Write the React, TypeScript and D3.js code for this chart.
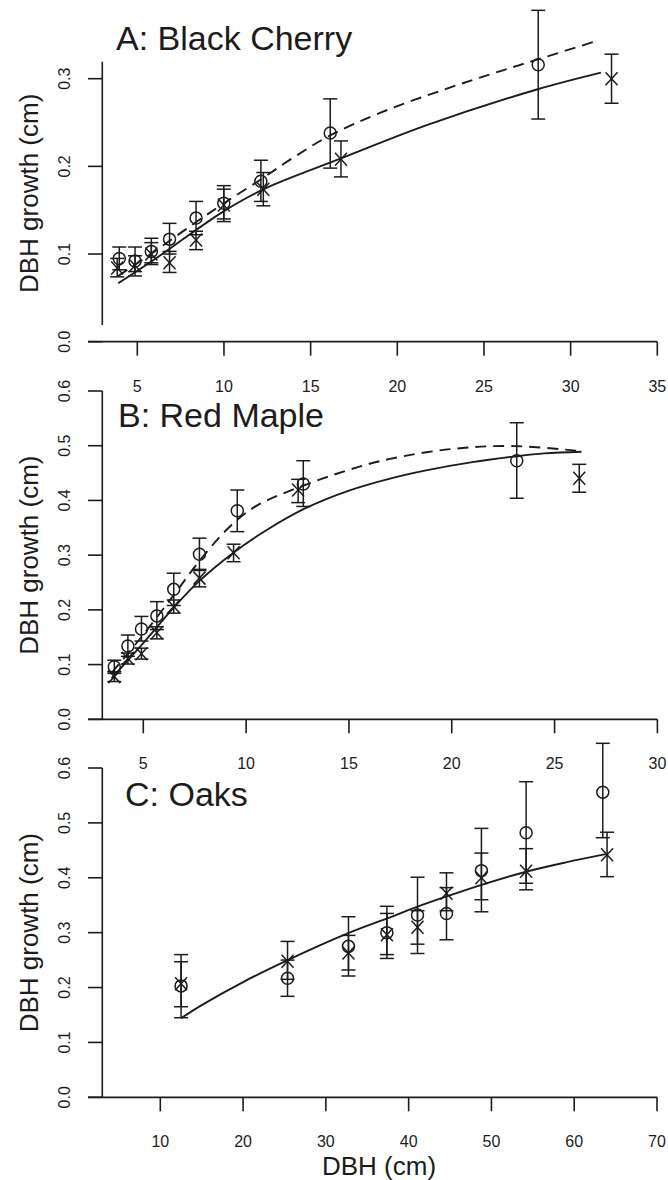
import React from 'react';
import * as d3 from 'd3';

// ---------- Panel A: Black Cherry ----------
const aCircDBH = [3.96, 4.87, 5.81, 6.86, 8.39, 9.99, 12.13, 16.13, 28.13];
const aCircG = [0.095, 0.092, 0.103, 0.117, 0.141, 0.158, 0.183, 0.238, 0.316];
const aCircLo = [0.082, 0.080, 0.090, 0.100, 0.122, 0.140, 0.160, 0.198, 0.254];
const aCircHi = [0.108, 0.108, 0.118, 0.135, 0.160, 0.178, 0.207, 0.277, 0.378];
const aCrossDBH = [3.84, 4.87, 5.81, 6.86, 8.39, 9.99, 12.27, 16.75, 32.36];
const aCrossG = [0.084, 0.087, 0.100, 0.090, 0.116, 0.156, 0.174, 0.208, 0.300];
const aCrossLo = [0.074, 0.075, 0.088, 0.079, 0.105, 0.137, 0.155, 0.188, 0.272];
const aCrossHi = [0.095, 0.098, 0.113, 0.103, 0.126, 0.174, 0.193, 0.229, 0.328];
const aSolidDBH = [3.9, 6, 8, 10, 12.3, 16.75, 21.7, 28.1, 31.75];
const aSolidG = [0.0666, 0.094, 0.122, 0.149, 0.174, 0.209, 0.247, 0.288, 0.307];
const aDashDBH = [3.9, 6, 8, 10, 12.2, 14, 16.1, 19, 22.9, 26, 28.1, 31.5];
const aDashG = [0.075, 0.103, 0.131, 0.158, 0.186, 0.21, 0.235, 0.261, 0.289, 0.309, 0.322, 0.343];
const aXTicks = [5, 10, 15, 20, 25, 30, 35];
const aYTicks = [0.0, 0.1, 0.2, 0.3];

// ---------- Panel B: Red Maple ----------
const bCircDBH = [3.59, 4.25, 4.91, 5.66, 6.48, 7.73, 9.57, 12.78, 23.16];
const bCircG = [0.096, 0.134, 0.165, 0.189, 0.2375, 0.3015, 0.381, 0.430, 0.4726];
const bCircLo = [0.084, 0.115, 0.143, 0.164, 0.208, 0.272, 0.343, 0.389, 0.404];
const bCircHi = [0.108, 0.154, 0.188, 0.215, 0.267, 0.331, 0.419, 0.4726, 0.542];
const bCrossDBH = [3.59, 4.25, 4.91, 5.66, 6.48, 7.73, 9.39, 12.53, 26.2];
const bCrossG = [0.078, 0.111, 0.120, 0.158, 0.206, 0.258, 0.3045, 0.419, 0.4404];
const bCrossLo = [0.069, 0.101, 0.110, 0.147, 0.194, 0.242, 0.288, 0.396, 0.415];
const bCrossHi = [0.087, 0.121, 0.130, 0.169, 0.218, 0.274, 0.320, 0.4386, 0.466];
const bSolidDBH = [3.46, 4.9, 6.5, 7.7, 9.4, 11, 12.84, 15, 17, 18.75, 21, 23, 24.5, 26.31];
const bSolidG = [0.075, 0.135, 0.205, 0.252, 0.305, 0.346, 0.385, 0.418, 0.44, 0.455, 0.47, 0.48, 0.486, 0.489];
const bDashDBH = [3.46, 4.9, 6.5, 7.7, 9.2, 10.5, 12.3, 15, 17, 20, 22.9, 26.3];
const bDashG = [0.085, 0.15, 0.228, 0.288, 0.352, 0.39, 0.42, 0.456, 0.476, 0.494, 0.4995, 0.49];
const bXTicks = [5, 10, 15, 20, 25, 30];
const bYTicks = [0.0, 0.1, 0.2, 0.3, 0.4, 0.5, 0.6];

// ---------- Panel C: Oaks ----------
const cCircDBH = [12.51, 25.37, 32.73, 37.37, 41.07, 44.57, 48.79, 54.19, 63.45];
const cCircG = [0.203, 0.217, 0.275, 0.300, 0.332, 0.335, 0.413, 0.482, 0.556];
const cCircLo = [0.145, 0.184, 0.221, 0.253, 0.262, 0.287, 0.338, 0.390, 0.473];
const cCircHi = [0.260, 0.250, 0.329, 0.348, 0.401, 0.382, 0.490, 0.575, 0.645];
const cCrossDBH = [12.51, 25.37, 32.73, 37.37, 41.07, 44.57, 48.79, 54.19, 63.97];
const cCrossG = [0.207, 0.248, 0.263, 0.296, 0.310, 0.372, 0.400, 0.412, 0.442];
const cCrossLo = [0.165, 0.215, 0.232, 0.260, 0.279, 0.340, 0.360, 0.378, 0.402];
const cCrossHi = [0.247, 0.284, 0.295, 0.335, 0.340, 0.409, 0.445, 0.453, 0.483];
const cSolidDBH = [12.5, 15, 20, 25.4, 32.7, 37.4, 41, 44.6, 49, 54.2, 59, 63.8];
const cSolidG = [0.144, 0.168, 0.21, 0.25, 0.299, 0.326, 0.347, 0.366, 0.388, 0.411, 0.428, 0.443];
const cXTicks = [10, 20, 30, 40, 50, 60, 70];
const cYTicks = [0.0, 0.1, 0.2, 0.3, 0.4, 0.5, 0.6];

type Series = { x: number[]; y: number[]; lo: number[]; hi: number[] };

const panels = [
  {
    title: 'A: Black Cherry', titleX: 116, titleY: 50,
    xDomain: [5, 35], xRange: [137.3, 657.3],
    yDomain: [0, 0.3], yRange: [341.7, 78.7], ySpan: [61.7, 325],
    xTicks: aXTicks, yTicks: aYTicks,
    circ: { x: aCircDBH, y: aCircG, lo: aCircLo, hi: aCircHi },
    cross: { x: aCrossDBH, y: aCrossG, lo: aCrossLo, hi: aCrossHi },
    solid: { x: aSolidDBH, y: aSolidG },
    dash: { x: aDashDBH, y: aDashG } as null | { x: number[]; y: number[] },
  },
  {
    title: 'B: Red Maple', titleX: 118, titleY: 427,
    xDomain: [5, 30], xRange: [143.3, 657.4],
    yDomain: [0, 0.6], yRange: [719.3, 391], ySpan: [391, 719.3],
    xTicks: bXTicks, yTicks: bYTicks,
    circ: { x: bCircDBH, y: bCircG, lo: bCircLo, hi: bCircHi },
    cross: { x: bCrossDBH, y: bCrossG, lo: bCrossLo, hi: bCrossHi },
    solid: { x: bSolidDBH, y: bSolidG },
    dash: { x: bDashDBH, y: bDashG } as null | { x: number[]; y: number[] },
  },
  {
    title: 'C: Oaks', titleX: 125, titleY: 806,
    xDomain: [10, 70], xRange: [160.3, 657],
    yDomain: [0, 0.6], yRange: [1097.3, 768], ySpan: [768, 1097.3],
    xTicks: cXTicks, yTicks: cYTicks,
    circ: { x: cCircDBH, y: cCircG, lo: cCircLo, hi: cCircHi },
    cross: { x: cCrossDBH, y: cCrossG, lo: cCrossLo, hi: cCrossHi },
    solid: { x: cSolidDBH, y: cSolidG },
    dash: null as null | { x: number[]; y: number[] },
  },
];

const INK = '#1c1c1c';
const FONT = '"Liberation Sans", Arial, Helvetica, sans-serif';
const AXIS_X = 102.3;
const AXIS_LEFT = 88;
const AXIS_RIGHT = 657.3;

function Panel({ p }: { p: (typeof panels)[number] }) {
  const x = d3.scaleLinear().domain(p.xDomain).range(p.xRange);
  const y = d3.scaleLinear().domain(p.yDomain).range(p.yRange);
  const line = d3
    .line<[number, number]>()
    .x((d) => x(d[0]))
    .y((d) => y(d[1]))
    .curve(d3.curveCatmullRom.alpha(0.5));
  const pts = (s: { x: number[]; y: number[] }) => s.x.map((v, i) => [v, s.y[i]] as [number, number]);
  const y0 = y(0);
  const midY = (p.ySpan[0] + p.ySpan[1]) / 2;

  const errBars = (s: Series) =>
    s.x.map((v, i) => {
      const cx = x(v);
      const t = y(s.hi[i]);
      const b = y(s.lo[i]);
      return (
        <g key={'e' + i}>
          <line x1={cx} x2={cx} y1={t} y2={b} />
          <line x1={cx - 7} x2={cx + 7} y1={t} y2={t} />
          <line x1={cx - 7} x2={cx + 7} y1={b} y2={b} />
        </g>
      );
    });

  return (
    <g>
      <text x={p.titleX} y={p.titleY} fontSize={34} fontFamily={FONT} fill={INK}>
        {p.title}
      </text>
      <text
        transform={`translate(38,${midY}) rotate(-90)`}
        textAnchor="middle"
        fontSize={26}
        fontFamily={FONT}
        fill={INK}
      >
        DBH growth (cm)
      </text>
      <g stroke={INK} strokeWidth={1.6} fill="none">
        <line x1={AXIS_X} x2={AXIS_X} y1={p.ySpan[0]} y2={p.ySpan[1]} />
        {p.yTicks.map((t) => (
          <line key={t} x1={AXIS_LEFT} x2={AXIS_X} y1={y(t)} y2={y(t)} />
        ))}
        <line x1={AXIS_LEFT} x2={AXIS_RIGHT} y1={y0} y2={y0} strokeWidth={1.8} />
        {p.xTicks.map((t) => (
          <line key={t} x1={x(t)} x2={x(t)} y1={y0} y2={y0 + 14} />
        ))}
      </g>
      {p.yTicks.map((t) => (
        <text
          key={t}
          transform={`translate(69.5,${y(t)}) rotate(-90)`}
          textAnchor="middle"
          fontSize={16}
          fontFamily={FONT}
          fill={INK}
        >
          {t.toFixed(1)}
        </text>
      ))}
      {p.xTicks.map((t) => (
        <text key={t} x={x(t)} y={y0 + 50} textAnchor="middle" fontSize={16} fontFamily={FONT} fill={INK}>
          {t}
        </text>
      ))}
      <g fill="none" stroke={INK}>
        <path d={line(pts(p.solid)) || ''} strokeWidth={1.9} />
        {p.dash && <path d={line(pts(p.dash)) || ''} strokeWidth={1.9} strokeDasharray="11,7" />}
      </g>
      <g stroke={INK} strokeWidth={1.5} fill="none">
        {errBars(p.circ)}
        {errBars(p.cross)}
        {p.circ.x.map((v, i) => (
          <circle key={'c' + i} cx={x(v)} cy={y(p.circ.y[i])} r={6} />
        ))}
        {p.cross.x.map((v, i) => {
          const cx = x(v);
          const cy = y(p.cross.y[i]);
          return (
            <g key={'x' + i}>
              <line x1={cx - 6} x2={cx + 6} y1={cy - 6.5} y2={cy + 6.5} />
              <line x1={cx - 6} x2={cx + 6} y1={cy + 6.5} y2={cy - 6.5} />
            </g>
          );
        })}
      </g>
    </g>
  );
}

export default function App() {
  return (
    <svg
      width={668}
      height={1180}
      viewBox="0 0 668 1180"
      style={{ position: 'absolute', left: 0, top: 0, background: '#fff' }}
    >
      <rect x={0} y={0} width={668} height={1180} fill="#fff" />
      {panels.map((p) => (
        <Panel key={p.title} p={p} />
      ))}
      <text x={379} y={1175} textAnchor="middle" fontSize={26} fontFamily={FONT} fill={INK}>
        DBH (cm)
      </text>
    </svg>
  );
}
